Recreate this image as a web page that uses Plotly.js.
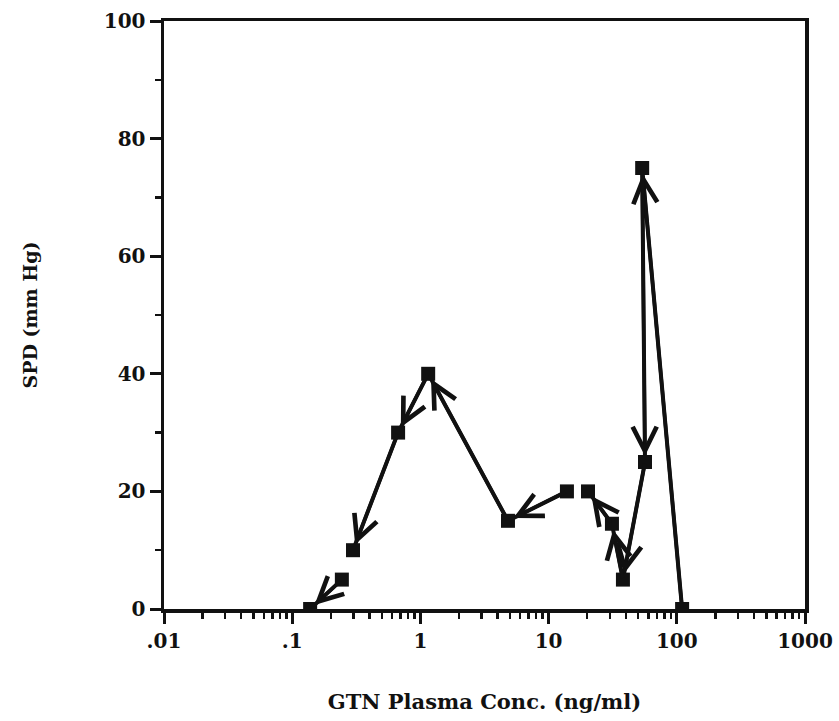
<!DOCTYPE html>
<html>
<head>
<meta charset="utf-8">
<script src="https://cdn.plot.ly/plotly-3.0.1.min.js"></script>
<style>
  html, body { margin: 0; padding: 0; background: #fff; }
  #chart { width: 839px; height: 721px; }
</style>
</head>
<body>
<div id="chart"></div>
<script>
// GTN plasma concentration (ng/ml) and SPD (mm Hg), listed in time order
const conc = [110, 53.7, 56.5, 38.0, 31.2, 20.3, 13.9, 4.82, 1.15, 0.67, 0.298, 0.244, 0.138];
const spd  = [0,   75,   25,   5,    14.5, 20,   20,   15,   40,   30,   10,    5,     0];
// consecutive observations sharing a run number are joined by an arrow
const run  = [1,   1,    1,    1,    1,    1,    2,    2,    2,    2,    2,     3,     3];

// x-axis tick labels
const xTickVals = [0.01, 0.1, 1, 10, 100, 1000];
const xTickText = ['.01', '.1', '1', '10', '100', '1000'];

// minor ticks at 2..9 within each decade
const xMinor = [];
for (let d = -2; d < 3; d++) {
  for (let m = 2; m <= 9; m++) xMinor.push(m * Math.pow(10, d));
}

const FONT = 'DejaVu Serif, Liberation Serif, serif';
const INK = '#111';

// one line trace per run
const runs = [...new Set(run)];
const traces = runs.map(r => {
  const idx = run.map((v, i) => v === r ? i : -1).filter(i => i >= 0);
  return {
    type: 'scatter',
    mode: 'lines+markers',
    x: idx.map(i => conc[i]),
    y: idx.map(i => spd[i]),
    line: { color: INK, width: 4 },
    marker: { symbol: 'square', size: 14, color: INK },
    hoverinfo: 'x+y',
    showlegend: false
  };
});

// arrowheads pointing from each observation to the next within a run
const arrows = [];
for (let i = 0; i < conc.length - 1; i++) {
  if (run[i] !== run[i + 1]) continue;
  arrows.push({
    xref: 'x', yref: 'y', axref: 'x', ayref: 'y',
    x: Math.log10(conc[i + 1]), y: spd[i + 1],
    ax: Math.log10(conc[i]), ay: spd[i],
    text: '',
    showarrow: true,
    arrowhead: 5,
    arrowsize: 1.35,
    arrowwidth: 3.5,
    arrowcolor: INK,
    standoff: 6
  });
}

const layout = {
  width: 839,
  height: 721,
  margin: { l: 164, r: 34, t: 21, b: 112 },
  paper_bgcolor: '#fff',
  plot_bgcolor: '#fff',
  font: { family: FONT, color: INK, size: 20 },
  xaxis: {
    type: 'log',
    range: [-2, 3],
    tickmode: 'array',
    tickvals: xTickVals,
    ticktext: xTickText,
    ticks: 'outside',
    ticklen: 11,
    tickwidth: 3,
    tickcolor: INK,
    minor: { tickmode: 'array', tickvals: xMinor, ticks: 'outside', ticklen: 6, tickwidth: 2.5, tickcolor: INK, showgrid: false },
    showline: true,
    linewidth: 3.5,
    linecolor: INK,
    mirror: true,
    showgrid: false,
    zeroline: false,
    tickfont: { family: FONT, size: 20, color: INK, weight: 'bold' },
    title: { text: 'GTN Plasma Conc. (ng/ml)', font: { family: FONT, size: 21, color: INK, weight: 'bold' }, standoff: 44 }
  },
  yaxis: {
    range: [0, 100],
    dtick: 20,
    ticks: 'outside',
    ticklen: 11,
    tickwidth: 3,
    tickcolor: INK,
    minor: { dtick: 10, ticks: 'outside', ticklen: 6, tickwidth: 2.5, tickcolor: INK, showgrid: false },
    showline: true,
    linewidth: 3.5,
    linecolor: INK,
    mirror: true,
    showgrid: false,
    zeroline: false,
    tickfont: { family: FONT, size: 20, color: INK, weight: 'bold' },
    title: { text: 'SPD (mm Hg)', font: { family: FONT, size: 19, color: INK, weight: 'bold' }, standoff: 62 }
  },
  annotations: arrows
};

Plotly.newPlot('chart', traces, layout, { displayModeBar: false, staticPlot: true });
</script>
</body>
</html>
